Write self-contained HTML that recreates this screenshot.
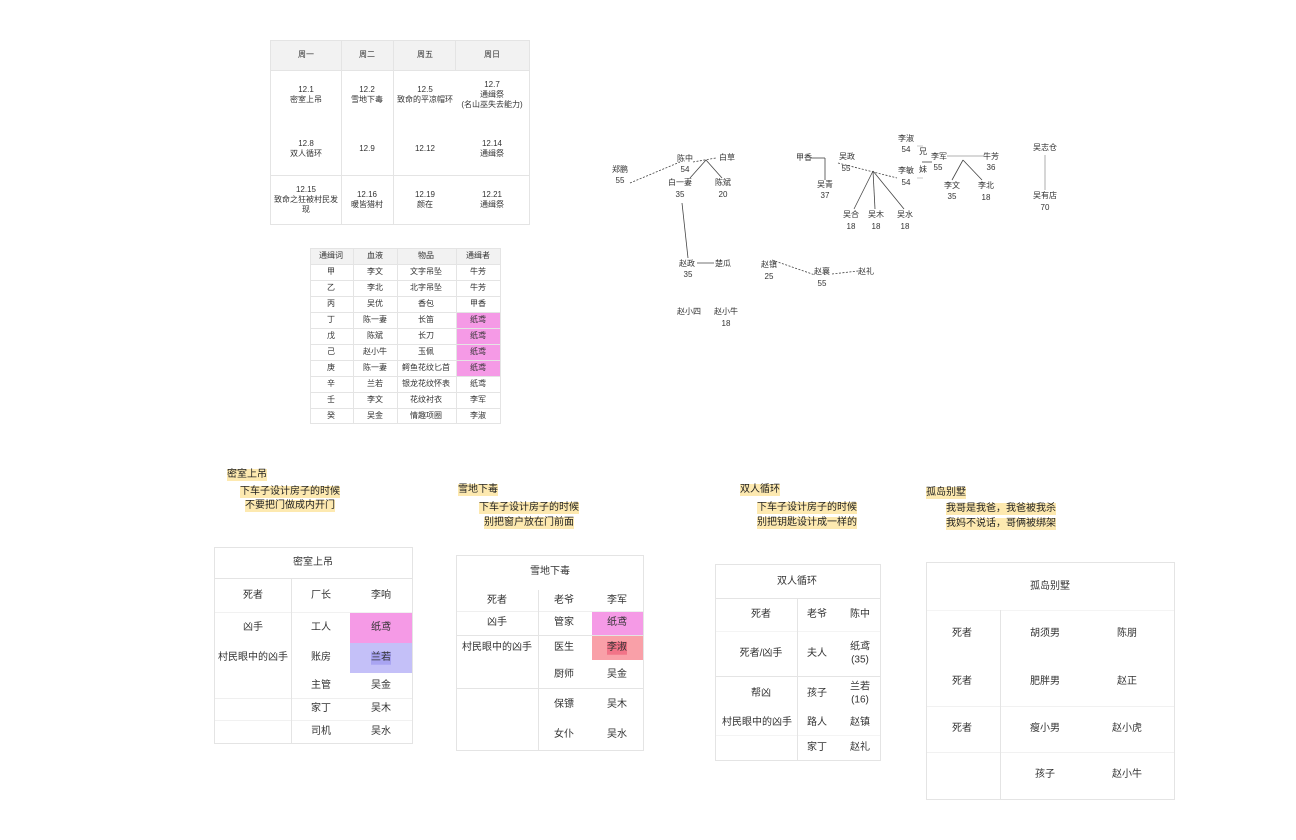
<!DOCTYPE html>
<html><head><meta charset="utf-8">
<style>
body{margin:0;width:1296px;height:840px;background:#fff;position:relative;overflow:hidden;font-family:"Liberation Sans","Noto Sans CJK SC",sans-serif;color:#333}
.t{position:absolute;transform:translate(-50%,-50%);white-space:nowrap;font-size:9px;line-height:1.25;text-align:center}
.s{font-size:8px}
.b{font-size:10px}
.r{position:absolute;background:#e4e4e4}
.box{position:absolute;border:1px solid #e4e4e4;box-sizing:border-box}
.fill{position:absolute}
.y{position:absolute;background:#fde9b0;font-size:10px;line-height:12px;white-space:nowrap;color:#222}
svg{position:absolute;left:0;top:0}
</style></head><body>

<!-- schedule table -->
<div class="fill" style="left:270px;top:40px;width:260px;height:30px;background:#f2f2f2"></div>
<div class="box" style="left:270px;top:40px;width:260px;height:185px"></div>
<div class="r" style="left:341px;top:40px;width:1px;height:185px"></div>
<div class="r" style="left:393px;top:40px;width:1px;height:185px"></div>
<div class="r" style="left:455px;top:40px;width:1px;height:30px"></div>
<div class="r" style="left:270px;top:70px;width:260px;height:1px"></div>
<div class="r" style="left:270px;top:175px;width:260px;height:1px"></div>
<div class="t s" style="left:306px;top:55px">周一</div><div class="t s" style="left:367px;top:55px">周二</div><div class="t s" style="left:425px;top:55px">周五</div><div class="t s" style="left:492px;top:55px">周日</div>
<div class="t s" style="left:306px;top:95px">12.1<br>密室上吊</div>
<div class="t s" style="left:367px;top:95px">12.2<br>雪地下毒</div>
<div class="t s" style="left:425px;top:95px">12.5<br>致命的平凉帽环</div>
<div class="t s" style="left:492px;top:95px">12.7<br>通缉祭<br>(名山巫失去能力)</div>
<div class="t s" style="left:306px;top:149px">12.8<br>双人循环</div>
<div class="t s" style="left:367px;top:149px">12.9</div>
<div class="t s" style="left:425px;top:149px">12.12</div>
<div class="t s" style="left:492px;top:149px">12.14<br>通缉祭</div>
<div class="t s" style="left:306px;top:200px">12.15<br>致命之狂被村民发<br>现</div>
<div class="t s" style="left:367px;top:200px">12.16<br>暖皆猎村</div>
<div class="t s" style="left:425px;top:200px">12.19<br>颜在</div>
<div class="t s" style="left:492px;top:200px">12.21<br>通缉祭</div>

<!-- second table -->
<div class="fill" style="left:310px;top:248px;width:191px;height:16px;background:#f2f2f2"></div>
<div class="fill" style="left:456px;top:312px;width:45px;height:64px;background:#f59ae6"></div>
<div class="box" style="left:310px;top:248px;width:191px;height:176px"></div>
<div class="r" style="left:353px;top:248px;width:1px;height:176px"></div>
<div class="r" style="left:397px;top:248px;width:1px;height:176px"></div>
<div class="r" style="left:456px;top:248px;width:1px;height:176px"></div>
<div class="r" style="left:310px;top:264px;width:191px;height:1px"></div>
<div class="r" style="left:310px;top:280px;width:191px;height:1px"></div>
<div class="r" style="left:310px;top:296px;width:191px;height:1px"></div>
<div class="r" style="left:310px;top:312px;width:191px;height:1px"></div>
<div class="r" style="left:310px;top:328px;width:191px;height:1px"></div>
<div class="r" style="left:310px;top:344px;width:191px;height:1px"></div>
<div class="r" style="left:310px;top:360px;width:191px;height:1px"></div>
<div class="r" style="left:310px;top:376px;width:191px;height:1px"></div>
<div class="r" style="left:310px;top:392px;width:191px;height:1px"></div>
<div class="r" style="left:310px;top:408px;width:191px;height:1px"></div>
<div class="t s" style="left:331px;top:256px">通缉词</div><div class="t s" style="left:375px;top:256px">血液</div><div class="t s" style="left:426px;top:256px">物品</div><div class="t s" style="left:478px;top:256px">通缉者</div>
<div class="t s" style="left:331px;top:272px">甲</div><div class="t s" style="left:375px;top:272px">李文</div><div class="t s" style="left:426px;top:272px">文字吊坠</div><div class="t s" style="left:478px;top:272px">牛芳</div>
<div class="t s" style="left:331px;top:288px">乙</div><div class="t s" style="left:375px;top:288px">李北</div><div class="t s" style="left:426px;top:288px">北字吊坠</div><div class="t s" style="left:478px;top:288px">牛芳</div>
<div class="t s" style="left:331px;top:304px">丙</div><div class="t s" style="left:375px;top:304px">吴优</div><div class="t s" style="left:426px;top:304px">香包</div><div class="t s" style="left:478px;top:304px">甲香</div>
<div class="t s" style="left:331px;top:320px">丁</div><div class="t s" style="left:375px;top:320px">陈一妻</div><div class="t s" style="left:426px;top:320px">长笛</div><div class="t s" style="left:478px;top:320px">纸鸢</div>
<div class="t s" style="left:331px;top:336px">戊</div><div class="t s" style="left:375px;top:336px">陈斌</div><div class="t s" style="left:426px;top:336px">长刀</div><div class="t s" style="left:478px;top:336px">纸鸢</div>
<div class="t s" style="left:331px;top:352px">己</div><div class="t s" style="left:375px;top:352px">赵小牛</div><div class="t s" style="left:426px;top:352px">玉佩</div><div class="t s" style="left:478px;top:352px">纸鸢</div>
<div class="t s" style="left:331px;top:368px">庚</div><div class="t s" style="left:375px;top:368px">陈一妻</div><div class="t s" style="left:426px;top:368px">鳄鱼花纹匕首</div><div class="t s" style="left:478px;top:368px">纸鸢</div>
<div class="t s" style="left:331px;top:384px">辛</div><div class="t s" style="left:375px;top:384px">兰若</div><div class="t s" style="left:426px;top:384px">银龙花纹怀表</div><div class="t s" style="left:478px;top:384px">纸鸢</div>
<div class="t s" style="left:331px;top:400px">壬</div><div class="t s" style="left:375px;top:400px">李文</div><div class="t s" style="left:426px;top:400px">花纹衬衣</div><div class="t s" style="left:478px;top:400px">李军</div>
<div class="t s" style="left:331px;top:416px">癸</div><div class="t s" style="left:375px;top:416px">吴金</div><div class="t s" style="left:426px;top:416px">情趣项圈</div><div class="t s" style="left:478px;top:416px">李淑</div>

<!-- diagram lines -->
<svg width="1296" height="840">
<g stroke="#444" stroke-width="0.8" fill="none">
<line x1="630" y1="183" x2="680" y2="162" stroke-dasharray="2,1.5"/>
<line x1="693" y1="162" x2="716" y2="158" stroke-dasharray="2,1.5"/>
<line x1="706" y1="160" x2="690" y2="178"/>
<line x1="706" y1="160" x2="722" y2="178"/>
<line x1="682" y1="203" x2="688" y2="258"/>
<line x1="697" y1="263" x2="714" y2="263"/>
<line x1="811" y1="158" x2="825" y2="158"/>
<line x1="825" y1="158" x2="825" y2="180"/>
<line x1="838" y1="163" x2="897" y2="178" stroke-dasharray="2,1.5"/>
<line x1="873" y1="171" x2="854" y2="209"/>
<line x1="873" y1="171" x2="875" y2="209"/>
<line x1="873" y1="171" x2="904" y2="209"/>
<line x1="917" y1="146" x2="923" y2="146" stroke="#bbb"/>
<line x1="917" y1="178" x2="923" y2="178" stroke="#bbb"/>
<line x1="922" y1="162" x2="932" y2="162"/>
<line x1="947" y1="156" x2="983" y2="156" stroke="#999"/>
<line x1="963" y1="160" x2="952" y2="180"/>
<line x1="963" y1="160" x2="982" y2="180"/>
<line x1="1045" y1="155" x2="1045" y2="190" stroke="#999"/>
<line x1="772" y1="260" x2="815" y2="275" stroke-dasharray="2,1.5"/>
<line x1="832" y1="274" x2="858" y2="271" stroke-dasharray="2,1.5"/>
</g></svg>

<div class="t s" style="left:620px;top:170px">郑鹏</div><div class="t s" style="left:620px;top:181px">55</div>
<div class="t s" style="left:685px;top:159px">陈中</div><div class="t s" style="left:685px;top:170px">54</div>
<div class="t s" style="left:680px;top:183px">白一妻</div><div class="t s" style="left:680px;top:195px">35</div>
<div class="t s" style="left:727px;top:158px">白草</div>
<div class="t s" style="left:723px;top:183px">陈斌</div><div class="t s" style="left:723px;top:195px">20</div>
<div class="t s" style="left:687px;top:264px">赵政</div><div class="t s" style="left:688px;top:275px">35</div>
<div class="t s" style="left:723px;top:264px">楚瓜</div>
<div class="t s" style="left:689px;top:312px">赵小四</div>
<div class="t s" style="left:726px;top:312px">赵小牛</div><div class="t s" style="left:726px;top:324px">18</div>
<div class="t s" style="left:804px;top:158px">甲香</div>
<div class="t s" style="left:825px;top:185px">吴青</div><div class="t s" style="left:825px;top:196px">37</div>
<div class="t s" style="left:847px;top:157px">吴政</div><div class="t s" style="left:846px;top:169px">55</div>
<div class="t s" style="left:906px;top:171px">李敏</div><div class="t s" style="left:906px;top:183px">54</div>
<div class="t s" style="left:851px;top:215px">吴合</div><div class="t s" style="left:851px;top:227px">18</div>
<div class="t s" style="left:876px;top:215px">吴木</div><div class="t s" style="left:876px;top:227px">18</div>
<div class="t s" style="left:905px;top:215px">吴水</div><div class="t s" style="left:905px;top:227px">18</div>
<div class="t s" style="left:906px;top:139px">李淑</div><div class="t s" style="left:906px;top:150px">54</div>
<div class="t s" style="left:923px;top:152px">兄</div><div class="t s" style="left:923px;top:170px">妹</div>
<div class="t s" style="left:939px;top:157px">李军</div><div class="t s" style="left:938px;top:168px">55</div>
<div class="t s" style="left:991px;top:157px">牛芳</div><div class="t s" style="left:991px;top:168px">36</div>
<div class="t s" style="left:952px;top:186px">李文</div><div class="t s" style="left:952px;top:197px">35</div>
<div class="t s" style="left:986px;top:186px">李北</div><div class="t s" style="left:986px;top:198px">18</div>
<div class="t s" style="left:1045px;top:148px">吴志仓</div>
<div class="t s" style="left:1045px;top:196px">吴有店</div><div class="t s" style="left:1045px;top:208px">70</div>
<div class="t s" style="left:769px;top:265px">赵镇</div><div class="t s" style="left:769px;top:277px">25</div>
<div class="t s" style="left:822px;top:272px">赵襄</div><div class="t s" style="left:822px;top:284px">55</div>
<div class="t s" style="left:866px;top:272px">赵礼</div>

<!-- yellow notes -->
<div class="y" style="left:227px;top:469px">密室上吊</div>
<div class="y" style="left:240px;top:486px">下车子设计房子的时候</div>
<div class="y" style="left:245px;top:500px">不要把门做成内开门</div>
<div class="y" style="left:458px;top:484px">雪地下毒</div>
<div class="y" style="left:479px;top:502px">下车子设计房子的时候</div>
<div class="y" style="left:484px;top:517px">别把窗户放在门前面</div>
<div class="y" style="left:740px;top:484px">双人循环</div>
<div class="y" style="left:757px;top:502px">下车子设计房子的时候</div>
<div class="y" style="left:757px;top:517px">别把钥匙设计成一样的</div>
<div class="y" style="left:926px;top:487px">孤岛别墅</div>
<div class="y" style="left:946px;top:503px">我哥是我爸，我爸被我杀</div>
<div class="y" style="left:946px;top:518px">我妈不说话，哥俩被绑架</div>

<!-- table 1 -->
<div class="fill" style="left:350px;top:613px;width:62px;height:30px;background:#f59ae6"></div>
<div class="fill" style="left:350px;top:643px;width:62px;height:30px;background:#c4c0f8"></div>
<div class="box" style="left:214px;top:547px;width:199px;height:197px"></div>
<div class="r" style="left:214px;top:578px;width:199px;height:1px"></div>
<div class="r" style="left:291px;top:578px;width:1px;height:166px"></div>
<div class="r" style="left:214px;top:612px;width:199px;height:1px;opacity:.5"></div>
<div class="r" style="left:214px;top:698px;width:199px;height:1px;opacity:.6"></div>
<div class="r" style="left:214px;top:720px;width:199px;height:1px;opacity:.5"></div>
<div class="t b" style="left:313px;top:563px">密室上吊</div>
<div class="t b" style="left:253px;top:596px">死者</div><div class="t b" style="left:321px;top:596px">厂长</div><div class="t b" style="left:381px;top:596px">李响</div>
<div class="t b" style="left:253px;top:628px">凶手</div><div class="t b" style="left:321px;top:628px">工人</div><div class="t b" style="left:381px;top:628px">纸鸢</div>
<div class="t b" style="left:253px;top:658px">村民眼中的凶手</div><div class="t b" style="left:321px;top:658px">账房</div><div class="t b" style="left:381px;top:658px;background:#a9a4f2">兰若</div>
<div class="t b" style="left:321px;top:686px">主管</div><div class="t b" style="left:381px;top:686px">吴金</div>
<div class="t b" style="left:321px;top:709px">家丁</div><div class="t b" style="left:381px;top:709px">吴木</div>
<div class="t b" style="left:321px;top:732px">司机</div><div class="t b" style="left:381px;top:732px">吴水</div>

<!-- table 2 -->
<div class="fill" style="left:592px;top:612px;width:51px;height:23px;background:#f59ae6"></div>
<div class="fill" style="left:592px;top:635px;width:51px;height:25px;background:#f9a0a8"></div>
<div class="box" style="left:456px;top:555px;width:188px;height:196px"></div>
<div class="r" style="left:538px;top:590px;width:1px;height:161px"></div>
<div class="r" style="left:456px;top:611px;width:188px;height:1px;opacity:.6"></div>
<div class="r" style="left:456px;top:635px;width:188px;height:1px"></div>
<div class="r" style="left:456px;top:688px;width:188px;height:1px"></div>
<div class="t b" style="left:550px;top:572px">雪地下毒</div>
<div class="t b" style="left:497px;top:601px">死者</div><div class="t b" style="left:564px;top:601px">老爷</div><div class="t b" style="left:617px;top:601px">李军</div>
<div class="t b" style="left:497px;top:623px">凶手</div><div class="t b" style="left:564px;top:623px">管家</div><div class="t b" style="left:617px;top:623px">纸鸢</div>
<div class="t b" style="left:497px;top:648px">村民眼中的凶手</div><div class="t b" style="left:564px;top:648px">医生</div><div class="t b" style="left:617px;top:648px;background:#f27488">李淑</div>
<div class="t b" style="left:564px;top:675px">厨师</div><div class="t b" style="left:617px;top:675px">吴金</div>
<div class="t b" style="left:564px;top:705px">保镖</div><div class="t b" style="left:617px;top:705px">吴木</div>
<div class="t b" style="left:564px;top:735px">女仆</div><div class="t b" style="left:617px;top:735px">吴水</div>

<!-- table 3 -->
<div class="box" style="left:715px;top:564px;width:166px;height:197px"></div>
<div class="r" style="left:715px;top:598px;width:166px;height:1px"></div>
<div class="r" style="left:797px;top:598px;width:1px;height:163px"></div>
<div class="r" style="left:715px;top:631px;width:166px;height:1px;opacity:.4"></div>
<div class="r" style="left:715px;top:676px;width:166px;height:1px"></div>
<div class="r" style="left:715px;top:735px;width:166px;height:1px;opacity:.4"></div>
<div class="t b" style="left:797px;top:582px">双人循环</div>
<div class="t b" style="left:761px;top:615px">死者</div><div class="t b" style="left:817px;top:615px">老爷</div><div class="t b" style="left:860px;top:615px">陈中</div>
<div class="t b" style="left:761px;top:654px">死者/凶手</div><div class="t b" style="left:817px;top:654px">夫人</div><div class="t b" style="left:860px;top:654px">纸鸢<br>(35)</div>
<div class="t b" style="left:761px;top:694px">帮凶</div><div class="t b" style="left:817px;top:694px">孩子</div><div class="t b" style="left:860px;top:694px">兰若<br>(16)</div>
<div class="t b" style="left:757px;top:723px">村民眼中的凶手</div><div class="t b" style="left:817px;top:723px">路人</div><div class="t b" style="left:860px;top:723px">赵镇</div>
<div class="t b" style="left:817px;top:748px">家丁</div><div class="t b" style="left:860px;top:748px">赵礼</div>

<!-- table 4 -->
<div class="box" style="left:926px;top:562px;width:249px;height:238px"></div>
<div class="r" style="left:1000px;top:610px;width:1px;height:190px"></div>
<div class="r" style="left:926px;top:610px;width:249px;height:1px;opacity:.4"></div>
<div class="r" style="left:926px;top:706px;width:249px;height:1px;opacity:.5"></div>
<div class="r" style="left:926px;top:752px;width:249px;height:1px;opacity:.5"></div>
<div class="t b" style="left:1050px;top:587px">孤岛别墅</div>
<div class="t b" style="left:962px;top:634px">死者</div><div class="t b" style="left:1045px;top:634px">胡须男</div><div class="t b" style="left:1127px;top:634px">陈朋</div>
<div class="t b" style="left:962px;top:682px">死者</div><div class="t b" style="left:1045px;top:682px">肥胖男</div><div class="t b" style="left:1127px;top:682px">赵正</div>
<div class="t b" style="left:962px;top:729px">死者</div><div class="t b" style="left:1045px;top:729px">瘦小男</div><div class="t b" style="left:1127px;top:729px">赵小虎</div>
<div class="t b" style="left:1045px;top:775px">孩子</div><div class="t b" style="left:1127px;top:775px">赵小牛</div>

</body></html>
